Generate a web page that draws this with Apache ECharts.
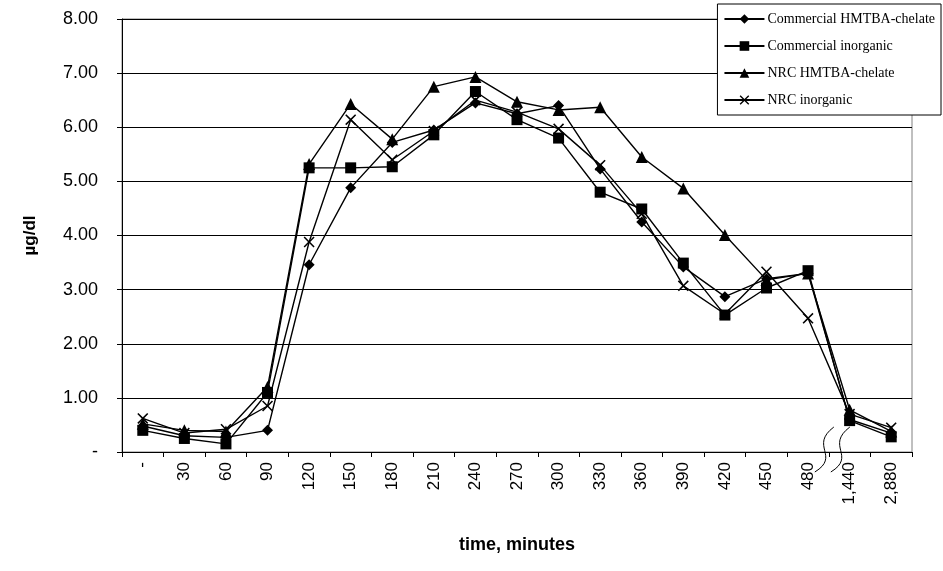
<!DOCTYPE html>
<html>
<head>
<meta charset="utf-8">
<script src="https://cdn.jsdelivr.net/npm/echarts@6/dist/echarts.min.js"></script>
<style>
html,body{margin:0;padding:0;background:#fff;}
#chart{width:943px;height:571px;}
</style>
</head>
<body>
<div id="chart"></div>
<script>
var categories = ['-', '30', '60', '90', '120', '150', '180', '210', '240', '270', '300', '330', '360', '390', '420', '450', '480', '1,440', '2,880'];
var seriesNames = ['Commercial HMTBA-chelate', 'Commercial inorganic', 'NRC HMTBA-chelate', 'NRC inorganic'];
var commercialHmtba = [0.48, 0.30, 0.27, 0.40, 3.46, 4.88, 5.72, 5.95, 6.45, 6.25, 6.40, 5.23, 4.25, 3.42, 2.87, 3.20, 3.30, 0.60, 0.35];
var commercialInorg = [0.40, 0.25, 0.15, 1.10, 5.25, 5.25, 5.27, 5.86, 6.66, 6.14, 5.80, 4.80, 4.49, 3.49, 2.53, 3.03, 3.35, 0.58, 0.28];
var nrcHmtba = [0.52, 0.40, 0.38, 1.20, 5.32, 6.43, 5.78, 6.75, 6.93, 6.47, 6.32, 6.37, 5.45, 4.87, 4.01, 3.18, 3.30, 0.78, 0.38];
var nrcInorg = [0.62, 0.35, 0.42, 0.85, 3.88, 6.14, 5.40, 5.93, 6.50, 6.28, 5.97, 5.30, 4.40, 3.07, 2.55, 3.33, 2.47, 0.70, 0.45];
var yTicks = { min: 0, max: 8, interval: 1 };

var crossPath = 'path://M0,1 L1,0 L5,4 L9,0 L10,1 L6,5 L10,9 L9,10 L5,6 L1,10 L0,9 L4,5 Z';
var symbols = ['diamond', 'rect', 'triangle', crossPath];
var sizes = [11, 11, 12, 11];
var dataSets = [commercialHmtba, commercialInorg, nrcHmtba, nrcInorg];

var chart = echarts.init(document.getElementById('chart'), null, { renderer: 'canvas' });
var series = seriesNames.map(function (n, i) {
  return {
    name: n,
    type: 'line',
    data: dataSets[i],
    symbol: symbols[i],
    symbolSize: sizes[i],
    showAllSymbol: true,
    lineStyle: { color: '#000', width: 1.4 },
    itemStyle: { color: '#000', borderWidth: 0 },
    emphasis: { disabled: true },
    animation: false
  };
});

chart.setOption({
  animation: false,
  backgroundColor: '#fff',
  grid: { left: 122, right: 31, top: 19, bottom: 119, show: true, borderColor: '#808080', borderWidth: 1, backgroundColor: 'transparent' },
  legend: {
    orient: 'vertical',
    right: 2,
    top: 4,
    padding: [8, 6, 8, 6],
    itemWidth: 40,
    itemHeight: 12,
    itemGap: 13,
    backgroundColor: '#fff',
    borderColor: '#000',
    borderWidth: 1,
    borderRadius: 0,
    data: seriesNames,
    textStyle: { fontFamily: 'Liberation Serif', fontSize: 14, color: '#000', padding: [0, 0, 0, -2] }
  },
  xAxis: {
    type: 'category',
    data: categories,
    boundaryGap: true,
    name: 'time, minutes',
    nameLocation: 'middle',
    nameGap: 84,
    nameTextStyle: { fontFamily: 'Liberation Sans', fontSize: 18, fontWeight: 'bold', color: '#000' },
    axisLine: { lineStyle: { color: '#000', width: 1 } },
    axisTick: { show: true, alignWithLabel: false, length: 5, lineStyle: { color: '#000' }, interval: 0 },
    axisLabel: { rotate: 90, interval: 0, margin: 10, fontFamily: 'Liberation Sans', fontSize: 17, color: '#000' },
    splitLine: { show: false }
  },
  yAxis: {
    type: 'value',
    min: yTicks.min,
    max: yTicks.max,
    interval: yTicks.interval,
    name: 'µg/dl',
    nameLocation: 'middle',
    nameGap: 83,
    nameRotate: 90,
    nameTextStyle: { fontFamily: 'Liberation Sans', fontSize: 17, fontWeight: 'bold', color: '#000' },
    axisLine: { show: true, lineStyle: { color: '#000', width: 1 } },
    axisTick: { show: true, length: 5, lineStyle: { color: '#000' } },
    axisLabel: {
      margin: 24, fontFamily: 'Liberation Sans', fontSize: 18, color: '#000',
      formatter: function (v) { return v === 0 ? '-' : v.toFixed(2); }
    },
    splitLine: { show: true, lineStyle: { color: '#000', width: 1 } }
  },
  series: series
});

// axis break symbol between 480 and 1,440
var xa = chart.convertToPixel({ xAxisIndex: 0 }, 16);
var xb = chart.convertToPixel({ xAxisIndex: 0 }, 17);
var bx = (xa + xb) / 2;
var by = chart.convertToPixel({ yAxisIndex: 0 }, 0);
function sCurve(cx) {
  return {
    type: 'bezierCurve',
    shape: {
      x1: cx - 10, y1: by + 20,
      x2: cx + 9, y2: by - 25,
      cpx1: cx + 16, cpy1: by + 4,
      cpx2: cx - 16, cpy2: by - 6
    },
    style: { stroke: '#000', lineWidth: 1, fill: null },
    silent: true
  };
}
chart.setOption({
  graphic: [
    sCurve(bx - 4),
    sCurve(bx + 12)
  ]
});
</script>
</body>
</html>
